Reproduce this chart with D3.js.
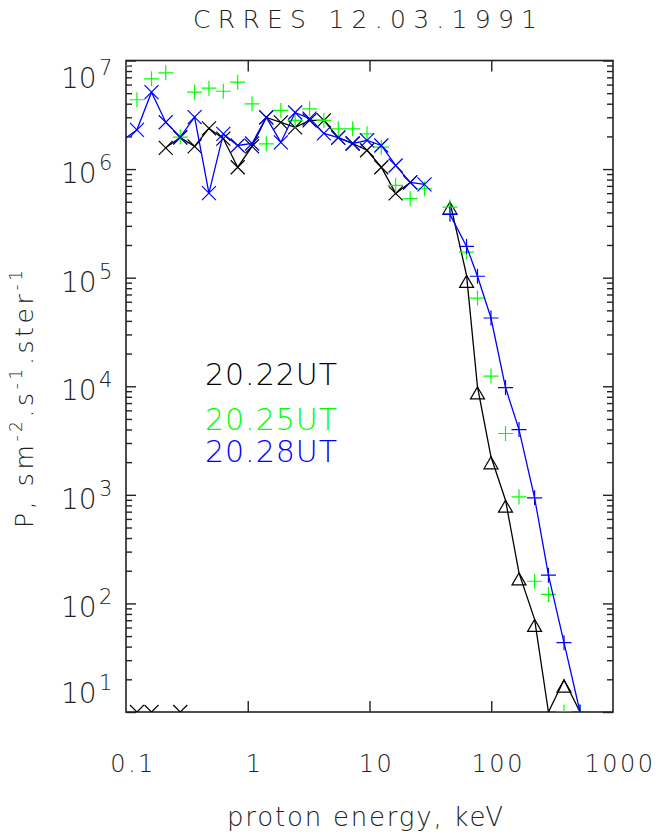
<!DOCTYPE html>
<html>
<head>
<meta charset="utf-8">
<script src="https://cdn.jsdelivr.net/npm/d3@7"></script>
<style>
  body { margin: 0; background: #fff; }
  svg { display: block; }
  text { font-family: "DejaVu Sans", "Liberation Sans", sans-serif; font-weight: 200; }
</style>
</head>
<body>
<svg id="chart" width="660" height="834"></svg>
<script>
// energy channels, keV
const lowEnergy = [0.094, 0.123, 0.162, 0.212, 0.279, 0.366, 0.48, 0.63, 0.827, 1.085, 1.42,
                   1.87, 2.45, 3.22, 4.22, 5.54, 7.27, 9.54, 12.5, 16.4, 21.6, 28.3];
const highEnergy = [45.8, 62.7, 77.1, 99.5, 131, 169, 227, 295, 396, 536];

// 20.22UT (black)
const ut2022Low = [null, null, null, 1.57e6, 1.95e6, 1.62e6, 2.37e6, 1.91e6, 1.04e6, 1.62e6, 2.99e6,
                   2.69e6, 2.42e6, 2.81e6, 2.81e6, 1.95e6, 1.72e6, 1.49e6, 1.04e6, 5.97e5, 7.54e5, null];
const ut2022High = [4.97e5, 1.05e5, 9.85e3, 2.24e3, 893, 191, 71.3, 10, 19.7, 10];
const ut2022Floor = [0.123, 0.162, 0.279];   // points at the bottom of the range

// 20.25UT (green)
const ut2025Low = [8.99e6, 4.35e6, 6.78e6, 7.70e6, 1.97e6, 5.11e6, 5.56e6, 5.21e6, 6.31e6, 3.99e6, 1.71e6,
                   3.47e6, 2.81e6, 3.59e6, 2.81e6, 2.35e6, 2.35e6, 2.11e6, 1.59e6, 7.08e5, 5.34e5, 6.59e5];
const ut2025High = [4.47e5, 1.72e5, 6.49e4, 1.24e4, 3.67e3, 957, 160, 121, 10, 10];

// 20.28UT (blue)
const ut2028Low = [1.85e6, 2.30e6, 5.11e6, 2.70e6, 1.97e6, 3.01e6, 6.01e5, 2.11e6, 1.65e6, 1.72e6, 2.99e6,
                   1.76e6, 3.32e6, 2.92e6, 2.13e6, 1.95e6, 1.72e6, 1.84e6, 1.65e6, 1.08e6, 7.54e5, 7.22e5];
const ut2028High = [3.83e5, 1.94e5, 1.03e5, 4.25e4, 9.73e3, 3.99e3, 938, 182, 43.5, 10];

const xTickValues = [0.1, 1, 10, 100, 1000];
const xTickLabels = ["0.1", "1", "10", "100", "1000"];
const yExponents = [1, 2, 3, 4, 5, 6, 7];
const legendLabels = ["20.22UT", "20.25UT", "20.28UT"];
const legendColors = ["#000000", "#00ff00", "#0000ff"];

const svg = d3.select("#chart");
const plotL = 126, plotR = 613, plotT = 60.5, plotB = 712;

let x = d3.scaleLog().domain([0.1, 1000]).range([plotL, plotR]);
let y = d3.scaleLog().domain([10, 1e7]).range([plotB, plotT]);

// title
svg.append("text")
    .attr("x", 193).attr("y", 28)
    .attr("font-size", 25).attr("fill", "#222")
    .attr("textLength", 344).attr("lengthAdjust", "spacing")
    .text("CRRES 12.03.1991");

// ticks, all pointing inwards
let majorY = yExponents.map(e => Math.pow(10, e));
let minorY = [];
yExponents.slice(0, -1).forEach(e => {
    for (let m = 2; m <= 9; m++) minorY.push(m * Math.pow(10, e));
});
let innerX = [1, 10, 100];

function tickGroup(axis, tx, ty) {
    let g = svg.append("g").attr("transform", "translate(" + tx + "," + ty + ")").call(axis);
    g.select(".domain").remove();
    g.selectAll("text").remove();
    g.selectAll("line").attr("stroke", "#222").attr("stroke-width", 1.4);
}
tickGroup(d3.axisBottom(x).tickValues(innerX).tickSize(-11), 0, plotB);
tickGroup(d3.axisTop(x).tickValues(innerX).tickSize(-11), 0, plotT);
tickGroup(d3.axisLeft(y).tickValues(majorY).tickSize(-10), plotL, 0);
tickGroup(d3.axisLeft(y).tickValues(minorY).tickSize(-6), plotL, 0);
tickGroup(d3.axisRight(y).tickValues(majorY).tickSize(-10), plotR, 0);
tickGroup(d3.axisRight(y).tickValues(minorY).tickSize(-6), plotR, 0);

// frame
svg.append("rect")
    .attr("x", plotL).attr("y", plotT)
    .attr("width", plotR - plotL).attr("height", plotB - plotT)
    .attr("fill", "none").attr("stroke", "#222").attr("stroke-width", 1.6);

// x tick labels
svg.selectAll(".xlab").data(xTickValues).enter().append("text")
    .attr("class", "xlab")
    .attr("x", d => x(d) + 7).attr("y", 772)
    .attr("text-anchor", "middle")
    .attr("font-size", 24).attr("letter-spacing", 2.5).attr("fill", "#222")
    .text((d, i) => xTickLabels[i]);

// y tick labels 10^n
let ylab = svg.selectAll(".ylab").data(yExponents).enter().append("g").attr("class", "ylab");
let labBase = d => Math.min(703, Math.max(88, y(Math.pow(10, d)) + 14));
ylab.append("text")
    .attr("x", 61).attr("y", labBase)
    .attr("font-size", 28).attr("fill", "#222")
    .text("10");
ylab.append("text")
    .attr("x", 99).attr("y", d => labBase(d) - 13)
    .attr("font-size", 21).attr("fill", "#222")
    .text(d => d);

// axis titles
svg.append("text")
    .attr("x", 227).attr("y", 826)
    .attr("font-size", 26).attr("fill", "#222")
    .attr("textLength", 276).attr("lengthAdjust", "spacing")
    .text("proton energy, keV");

let yt = svg.append("text")
    .attr("transform", "translate(33,528) rotate(-90)")
    .attr("font-size", 25).attr("fill", "#222")
    .attr("textLength", 258).attr("lengthAdjust", "spacing");
yt.append("tspan").text("P, sm");
yt.append("tspan").attr("dy", -11).attr("font-size", 17).text("-2");
yt.append("tspan").attr("dy", 11).text(".s");
yt.append("tspan").attr("dy", -11).attr("font-size", 17).text("-1");
yt.append("tspan").attr("dy", 11).text(".ster");
yt.append("tspan").attr("dy", -11).attr("font-size", 17).text("-1");

// legend
svg.selectAll(".leg").data(legendLabels).enter().append("text")
    .attr("class", "leg")
    .attr("x", 205).attr("y", (d, i) => [385, 430, 462][i])
    .attr("font-size", 30).attr("fill", (d, i) => legendColors[i])
    .attr("textLength", 132).attr("lengthAdjust", "spacing")
    .text(d => d);

// data
svg.append("clipPath").attr("id", "plotclip")
    .append("rect").attr("x", plotL).attr("y", plotT)
    .attr("width", plotR - plotL).attr("height", plotB - plotT);
let plot = svg.append("g").attr("clip-path", "url(#plotclip)");

function pairs(es, vs) {
    return es.map((e, i) => [e, vs[i]]);
}
let line = d3.line()
    .defined(d => d[1] != null)
    .x(d => x(d[0])).y(d => y(d[1]));

const crossPath = "M-7,-7L7,7M-7,7L7,-7";
const plusPath = "M-7.5,0H7.5M0,-7.5V7.5";
const triPath = "M0,0L7,12L-7,12Z";

function drawLine(data, color) {
    plot.append("path").datum(data)
        .attr("d", line)
        .attr("fill", "none").attr("stroke", color).attr("stroke-width", 1.3);
}
function drawMarks(data, color, shape) {
    plot.append("g").selectAll("path").data(data.filter(d => d[1] != null)).enter().append("path")
        .attr("transform", d => "translate(" + x(d[0]) + "," + y(d[1]) + ")")
        .attr("d", shape)
        .attr("fill", "none").attr("stroke", color).attr("stroke-width", 1.2);
}

let blackLow = pairs(lowEnergy, ut2022Low);
let blackHigh = pairs(highEnergy, ut2022High);
let blueLow = pairs(lowEnergy, ut2028Low);
let blueHigh = pairs(highEnergy, ut2028High);
let greenLow = pairs(lowEnergy, ut2025Low);
let greenHigh = pairs(highEnergy, ut2025High);

drawLine(blackLow, "#000");
drawMarks(blackLow, "#000", crossPath);
drawMarks(ut2022Floor.map(e => [e, 10]), "#000", crossPath);
drawLine(blackHigh, "#000");
drawMarks(blackHigh, "#000", triPath);

drawMarks(greenLow, "#00ff00", plusPath);
drawMarks(greenHigh, "#00ff00", plusPath);

// first blue channel lies left of the frame: only its line segment shows
drawLine(blueLow, "#0000ff");
drawMarks(blueLow.slice(1), "#0000ff", crossPath);
drawLine(blueHigh, "#0000ff");
drawMarks(blueHigh, "#0000ff", plusPath);
</script>
</body>
</html>
